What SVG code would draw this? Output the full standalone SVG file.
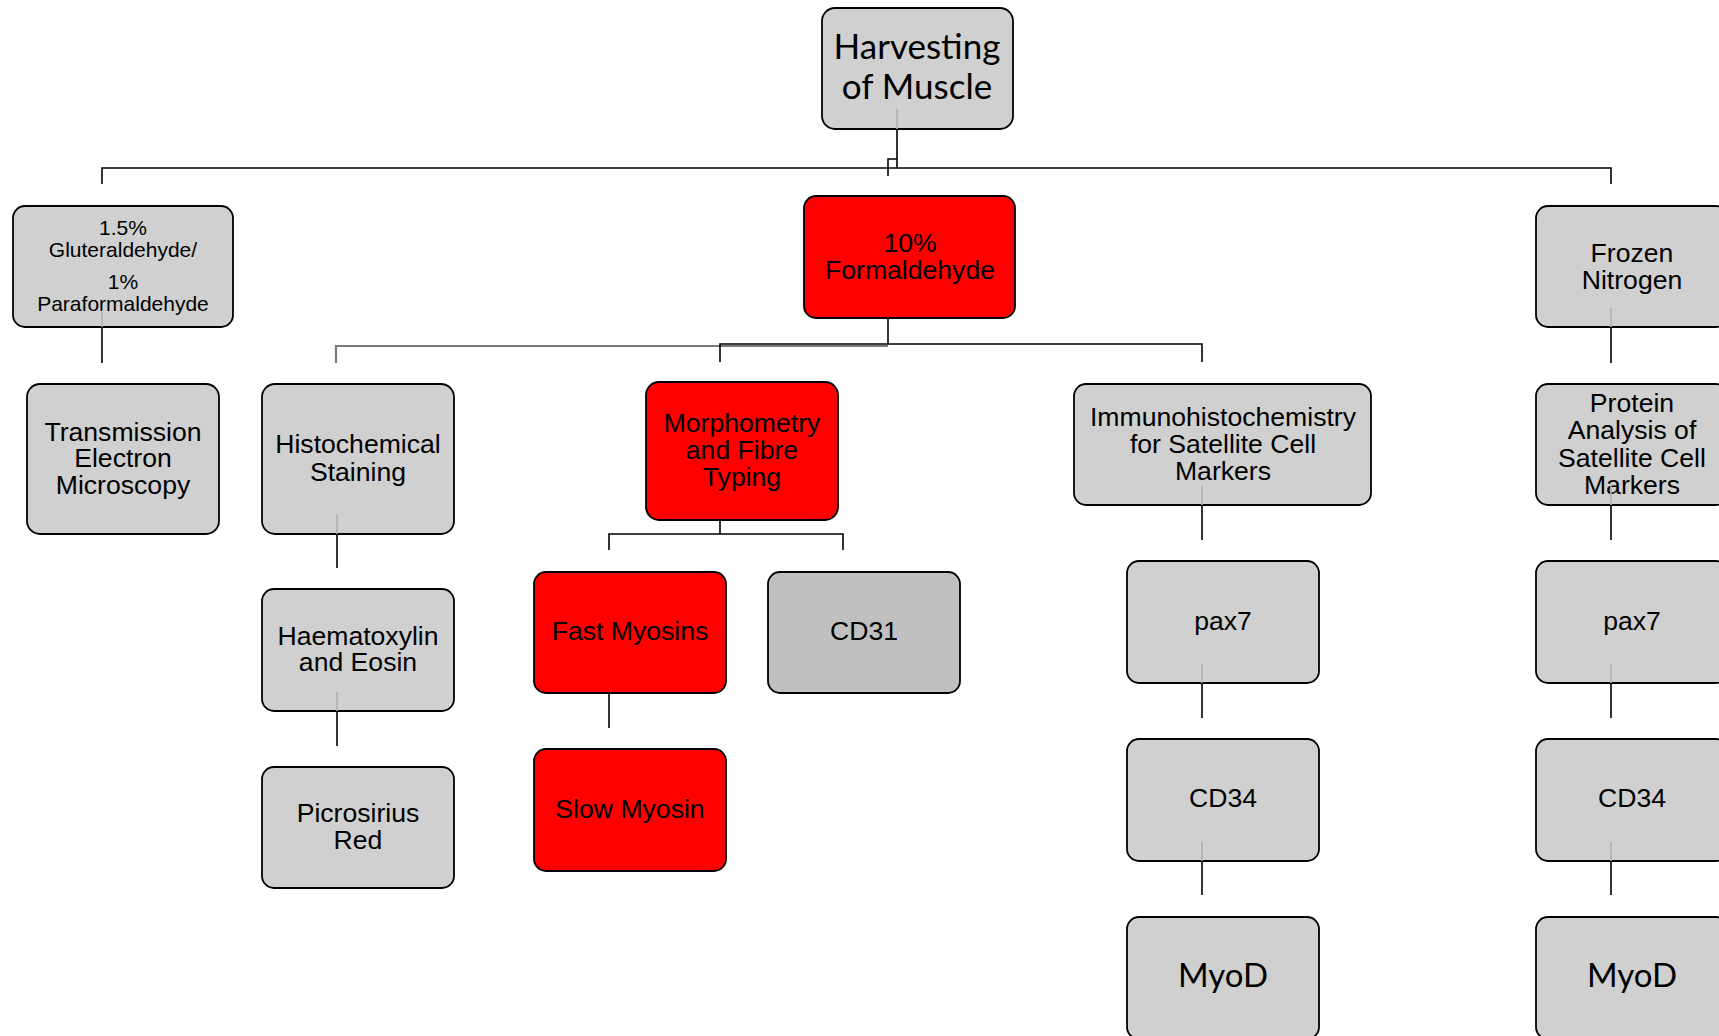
<svg xmlns="http://www.w3.org/2000/svg" width="1719" height="1036" viewBox="0 0 1719 1036">
<style>
.g{fill:#d0d0d0;stroke:#000;stroke-width:1.8}
.r{fill:#ff0000;stroke:#000;stroke-width:1.8}
.d{fill:#c0c0c0;stroke:#000;stroke-width:1.8}
text{font-family:"Liberation Sans",Arial,sans-serif;font-size:26.6px;fill:#000;text-anchor:middle}
.c{font-family:Lato,"Open Sans",sans-serif}
.s{font-size:21px}
.k{fill:none;stroke:#000;stroke-width:1.6}
.l{fill:none;stroke:#b0b0b0;stroke-width:1.6}
.m{fill:none;stroke:#7a7a7a;stroke-width:2.2}
</style>
<rect width="1719" height="1036" fill="#fff"/>
<g id="harvesting"><rect class="g" x="822" y="8" width="191" height="121" rx="13"/><text class="c" x="917" y="59" style="font-size:35px">Harvesting</text><text class="c" x="917" y="99" style="font-size:35px">of Muscle</text></g>
<g id="glut"><rect class="g" x="13" y="206" width="220" height="121" rx="12"/><text class="s" x="123" y="235">1.5%</text><text class="s" x="123" y="257">Gluteraldehyde/</text><text class="s" x="123" y="289">1%</text><text class="s" x="123" y="311">Paraformaldehyde</text></g>
<g id="formaldehyde"><rect class="r" x="804" y="196" width="211" height="122" rx="12"/><text x="910" y="252">10%</text><text x="910" y="279">Formaldehyde</text></g>
<g id="frozen"><rect class="g" x="1536" y="206" width="192" height="121" rx="12"/><text x="1632" y="262">Frozen</text><text x="1632" y="289">Nitrogen</text></g>
<g id="tem"><rect class="g" x="27" y="384" width="192" height="150" rx="13"/><text x="123" y="441">Transmission</text><text x="123" y="467">Electron</text><text x="123" y="494">Microscopy</text></g>
<g id="histo"><rect class="g" x="262" y="384" width="192" height="150" rx="13"/><text x="358" y="453">Histochemical</text><text x="358" y="481">Staining</text></g>
<g id="morph"><rect class="r" x="646" y="382" width="192" height="138" rx="13"/><text x="742" y="432">Morphometry</text><text x="742" y="459">and Fibre</text><text x="742" y="486">Typing</text></g>
<g id="immuno"><rect class="g" x="1074" y="384" width="297" height="121" rx="12"/><text x="1223" y="426">Immunohistochemistry</text><text x="1223" y="453">for Satellite Cell</text><text x="1223" y="480">Markers</text></g>
<g id="protein"><rect class="g" x="1536" y="384" width="192" height="121" rx="12"/><text x="1632" y="412">Protein</text><text x="1632" y="439">Analysis of</text><text x="1632" y="467">Satellite Cell</text><text x="1632" y="494">Markers</text></g>
<g id="haem"><rect class="g" x="262" y="589" width="192" height="122" rx="12"/><text x="358" y="645">Haematoxylin</text><text x="358" y="671">and Eosin</text></g>
<g id="picro"><rect class="g" x="262" y="767" width="192" height="121" rx="12"/><text x="358" y="822">Picrosirius</text><text x="358" y="849">Red</text></g>
<g id="fast"><rect class="r" x="534" y="572" width="192" height="121" rx="12"/><text x="630" y="640">Fast Myosins</text></g>
<g id="slow"><rect class="r" x="534" y="749" width="192" height="122" rx="12"/><text x="630" y="818">Slow Myosin</text></g>
<g id="cd31"><rect class="d" x="768" y="572" width="192" height="121" rx="12"/><text x="864" y="640">CD31</text></g>
<g id="pax7a"><rect class="g" x="1127" y="561" width="192" height="122" rx="12"/><text x="1223" y="630">pax7</text></g>
<g id="cd34a"><rect class="g" x="1127" y="739" width="192" height="122" rx="12"/><text x="1223" y="807">CD34</text></g>
<g id="myoda"><rect class="g" x="1127" y="917" width="192" height="122" rx="12"/><text class="c" x="1223" y="987" style="font-size:33px">MyoD</text></g>
<g id="pax7b"><rect class="g" x="1536" y="561" width="192" height="122" rx="12"/><text x="1632" y="630">pax7</text></g>
<g id="cd34b"><rect class="g" x="1536" y="739" width="192" height="122" rx="12"/><text x="1632" y="807">CD34</text></g>
<g id="myodb"><rect class="g" x="1536" y="917" width="192" height="122" rx="12"/><text class="c" x="1632" y="987" style="font-size:33px">MyoD</text></g>
<g id="connectors">
<path class="l" d="M897,109V129 M102,312V327 M1611,308V327 M337,514V534 M337,692V711 M1202,486V505 M1611,486V505 M1202,664V683 M1202,842V861 M1611,664V683 M1611,842V861"/>
<path class="k" d="M897,129V168 M888,176V159H897 M102,184V168H1611V184"/>
<path class="k" d="M102,327V363 M1611,327V363"/>
<path class="m" d="M336,363V346H888"/>
<path class="k" d="M888,318V344 M720,362V344H1202V362"/>
<path class="k" d="M337,534V568 M337,711V746"/>
<path class="k" d="M720,520V534 M609,550V534H843V550 M609,693V728"/>
<path class="k" d="M1202,505V540 M1202,683V718 M1202,861V895"/>
<path class="k" d="M1611,505V540 M1611,683V718 M1611,861V895"/>
</g>
</svg>
